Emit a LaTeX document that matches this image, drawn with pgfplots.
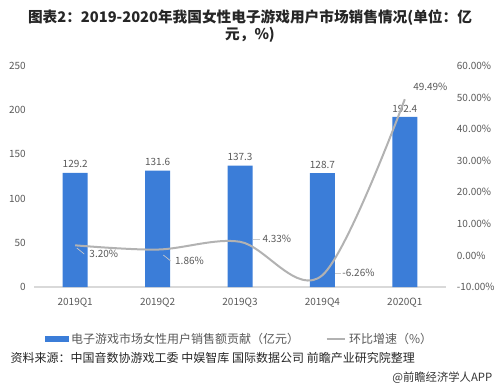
\documentclass[border=0pt]{standalone}
\usepackage{fontspec}
\setmainfont{Noto Sans CJK SC}
\usepackage{pgfplots}
\pgfplotsset{compat=1.18}
\definecolor{barblue}{HTML}{3B7DD8}
\definecolor{linegray}{HTML}{B2B2B2}
\definecolor{txt}{HTML}{595959}
\definecolor{axisgray}{HTML}{D9D9D9}
\pgfplotsset{/pgf/number format/assume math mode=true}
\begin{document}
\begin{tikzpicture}[x=0.75pt,y=0.75pt]
\path[use as bounding box] (0,0) rectangle (499,387);
\node[font=\fontsize{11}{12.5}\selectfont\bfseries, align=center, text=black!85] at (250,361)
  {图表2：2019-2020年我国女性电子游戏用户市场销售情况(单位：亿\\元，\%)};
\begin{axis}[
  at={(25.5pt,75pt)}, anchor=south west, scale only axis,
  width=309pt, height=165.75pt,
  xmin=-0.5, xmax=4.5, ymin=0, ymax=250,
  ytick={0,50,...,250},
  xtick={0,1,2,3,4},
  xticklabels={2019Q1,2019Q2,2019Q3,2019Q4,2020Q1},
  axis x line*=bottom, axis y line*=left,
  x axis line style={draw=axisgray, line width=0.8pt},
  y axis line style={draw=none},
  major tick length=0pt,
  tick label style={font=\fontsize{7.5}{9}\selectfont, text=txt},
  yticklabel style={inner sep=0pt, anchor=east, xshift=-6pt},
  xticklabel style={inner sep=0pt, anchor=north, yshift=-8pt},
  ybar, bar width=18.75pt,
  nodes near coords,
  nodes near coords style={font=\fontsize{7.5}{9}\selectfont, text=txt,
    /pgf/number format/.cd, fixed, fixed zerofill, precision=1},
]
\addplot[fill=barblue, draw=none] coordinates {(0,129.2) (1,131.6) (2,137.3) (3,128.7) (4,192.4)};
\end{axis}
\begin{axis}[
  at={(25.5pt,75pt)}, anchor=south west, scale only axis,
  width=309pt, height=165.75pt,
  xmin=-0.5, xmax=4.5, ymin=-10, ymax=60,
  ytick={-10,0,...,60},
  axis x line=none, axis y line*=right,
  y axis line style={draw=none},
  major tick length=0pt,
  tick label style={font=\fontsize{7.5}{9}\selectfont, text=txt},
  yticklabel style={inner sep=0pt, anchor=west, xshift=8pt},
  yticklabel={\pgfmathprintnumber[fixed,fixed zerofill,precision=2]{\tick}\%},
  legend style={at={(0.5,-0.235)}, anchor=center, draw=none, fill=none,
    font=\fontsize{9}{11}\selectfont, text=txt, legend columns=2,
    /tikz/every even column/.append style={column sep=18pt}},
  clip=false,
]
\addlegendimage{legend image code/.code={\fill[barblue] (0pt,-1.7pt) rectangle (17pt,1.7pt);}}
\addlegendentry{电子游戏市场女性用户销售额贡献（亿元）}
\addplot[linegray, line width=1.5pt, smooth, tension=0.55,
  legend image code/.code={\draw[linegray, line width=1.5pt] (0pt,0pt) -- (14pt,0pt);}]
  coordinates {(0,3.20) (1,1.86) (2,4.33) (3,-6.26) (4,49.49)};
\addlegendentry{环比增速（\%）}
\begin{scope}[every node/.style={font=\fontsize{7.5}{9}\selectfont, text=txt, inner sep=0pt}]
\draw[linegray!70, line width=0.5pt] (axis cs:0.02,2.35) -- (axis cs:0.11,0.45);
\node[anchor=west] at (axis cs:0.17,0.45) {3.20\%};
\draw[linegray!70, line width=0.5pt] (axis cs:1.07,0.13) -- (axis cs:1.16,-1.76);
\node[anchor=west] at (axis cs:1.21,-1.76) {1.86\%};
\draw[linegray!70, line width=0.5pt] (axis cs:2.16,5.2) -- (axis cs:2.24,5.2);
\node[anchor=west] at (axis cs:2.27,5.2) {4.33\%};
\draw[linegray!70, line width=0.5pt] (axis cs:3.15,-5.57) -- (axis cs:3.23,-5.57);
\node[anchor=west] at (axis cs:3.24,-5.57) {-6.26\%};
\node at (axis cs:4.31,53.3) {49.49\%};
\end{scope}
\end{axis}
\node[anchor=west, font=\fontsize{9}{11}\selectfont, text=black!85] at (6,29)
  {资料来源：中国音数协游戏工委 中娱智库 国际数据公司 前瞻产业研究院整理};
\node[anchor=east, font=\fontsize{8.5}{10}\selectfont, text=black!80] at (497,9)
  {@前瞻经济学人APP};
\end{tikzpicture}
\end{document}
